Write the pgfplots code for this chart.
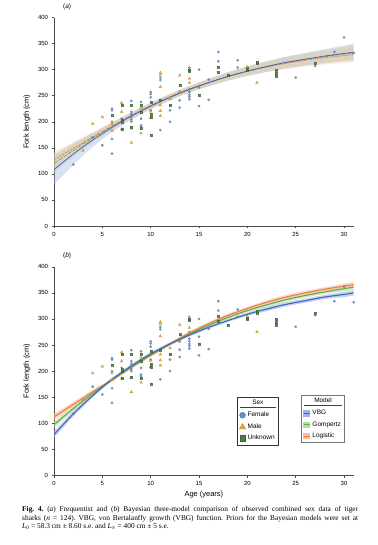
\documentclass[border=0pt]{standalone}
\usepackage{fontspec}
\setmainfont{Liberation Sans}
\newfontfamily\capfont{Liberation Serif}
\usepackage{pgfplots}
\usepackage{pgfplotstable}
\pgfplotsset{compat=1.18}
\usepgfplotslibrary{fillbetween}

\definecolor{femc}{HTML}{6A8EC0}
\definecolor{malc}{HTML}{E4AA34}
\definecolor{unkc}{HTML}{4E7D44}
\definecolor{vbgc}{HTML}{4262C6}
\definecolor{vbgb}{HTML}{9FB3E6}
\definecolor{gomc}{HTML}{62AE45}
\definecolor{gomb}{HTML}{B5DCA0}
\definecolor{logc}{HTML}{F07A45}
\definecolor{logb}{HTML}{F7BFA2}

\pgfplotstableread{
x y
2 118
4 170
5 155
6 139
6 167
6 200
6 222
6 225
7 206
8 200
8 204
8 209
8 214
8 219
8 240
9 190
9 193
9 206
9 238
10 222
10 247
10 253
10 257
11 184
11 280
11 285
12 200
12 222
13 227
13 241
13 257
14 243
14 248
14 252
14 257
14 262
14 300
14 304
15 230
15 266
15 300
16 242
16 281
17 316
17 334
19 304
19 318
25 285
27 307
29 334
30 362
31 332
}\femdata

\pgfplotstableread{
x y
3 145
4 196
5 209
6 183
6 196
7 186
7 219
7 236
8 160
8 187
9 178
9 226
10 208
10 220
11 211
11 221
11 232
11 267
11 291
11 294
12 244
13 257
13 289
14 275
14 283
20 305
21 275
}\maldata

\pgfplotstableread{
x y
6 212
7 186
7 199
7 203
7 232
8 189
8 232
9 187
9 219
9 232
10 175
10 208
10 214
10 238
11 241
12 232
13 270
14 297
14 300
15 252
17 296
17 305
18 289
20 299
20 302
21 312
21 315
23 288
23 293
23 299
27 312
}\unkdata

% panel (a): frequentist fits, t mid lo hi
\pgfplotstableread{
t m l h
0 108 80 136
2 138 117 158
4 165 152 178
6 189 180 198
8 211 204 218
10 230 224 236
12 247 241 253
14 262 256 268
16 275 268 282
18 287 279 295
20 297 288 306
22 306 296 316
24 314 303 325
26 320 308 332
28 326 313 339
30 331 317 346
31 333 319 350
}\vbgA
\pgfplotstableread{
t m l h
0 120 103 137
2 145 132 158
4 169 160 178
6 191 184 198
8 211 205 217
10 230 224 236
12 247 241 253
14 262 256 268
16 275 268 282
18 287 279 295
20 297 288 306
22 306 296 316
24 313 302 324
26 320 308 332
28 325 312 338
30 330 316 344
31 332 317 347
}\gomA
\pgfplotstableread{
t m l h
0 127 112 142
2 149 137 161
4 171 162 180
6 192 185 199
8 212 206 218
10 231 225 237
12 248 242 254
14 263 257 269
16 276 269 283
18 287 279 295
20 297 288 306
22 305 295 315
24 312 301 323
26 318 306 330
28 323 310 336
30 327 313 341
31 329 314 344
}\logA

% panel (b): Bayesian fits
\pgfplotstableread{
t m l h
0 78 72 84
2 118 113 123
4 153 149 157
6 184 181 187
8 210 207 213
10 233 230 236
12 252 249 255
14 269 266 272
16 284 281 287
18 297 294 300
20 309 306 312
22 319 315 323
24 328 324 332
26 335 331 339
28 342 338 346
30 347 342 352
31 350 345 355
}\vbgB
\pgfplotstableread{
t m l h
0 97 91 103
2 128 123 133
4 157 153 161
6 183 180 186
8 208 205 211
10 231 228 234
12 252 249 255
14 271 268 274
16 288 285 291
18 303 300 306
20 316 313 319
22 327 323 331
24 337 333 341
26 345 341 349
28 352 348 356
30 358 353 363
31 361 356 366
}\gomB
\pgfplotstableread{
t m l h
0 112 106 118
2 136 131 141
4 160 156 164
6 183 180 186
8 207 204 210
10 230 227 233
12 252 249 255
14 273 270 276
16 291 288 294
18 307 304 310
20 320 317 323
22 332 328 336
24 342 338 346
26 350 346 354
28 357 353 361
30 363 358 368
31 366 361 371
}\logB

\pgfplotsset{
  panel/.style={
    scale only axis, width=299.7bp, height=208.5bp,
    xmin=0, xmax=31, ymin=0, ymax=400,
    axis lines*=left,
    axis line style={black!70, line width=0.6pt},
    xtick={0,5,...,30}, ytick={0,50,...,400},
    tick align=outside, major tick length=2.5pt,
    tick style={black!70, line width=0.5pt},
    tick label style={font=\fontsize{6}{7}\selectfont},
    xticklabel={\pgfmathprintnumber[assume math mode=true]{\tick}},
    yticklabel={\pgfmathprintnumber[assume math mode=true]{\tick}},
    ylabel={Fork length (cm)},
    y label style={at={(axis description cs:-0.09,0.5)}, anchor=center, font=\fontsize{7.5}{8}\selectfont},
    x label style={at={(axis description cs:0.5,-0.09)}, anchor=center, font=\fontsize{7.5}{8}\selectfont},
  },
  femst/.style={only marks, mark=*, mark size=1.25pt, mark options={fill=femc, draw=femc!80!black, line width=0.2pt, opacity=0.85}},
  malst/.style={only marks, mark=triangle*, mark size=1.7pt, mark options={fill=malc, draw=malc!75!black, line width=0.2pt, opacity=0.85}},
  unkst/.style={only marks, mark=square*, mark size=1.0pt, mark options={fill=unkc, draw=unkc!85!black, line width=0.2pt, opacity=0.85}},
}

\begin{document}
\begin{tikzpicture}

% ---------------- panel (a)
\begin{axis}[panel, at={(54bp,-226bp)}, anchor=south west]
\addplot[femst] table[x=x,y=y] {\femdata};
\addplot[malst] table[x=x,y=y] {\maldata};
\addplot[unkst] table[x=x,y=y] {\unkdata};
% bands
\addplot[draw=none, name path=vaL, forget plot, smooth] table[x=t,y=l] {\vbgA};
\addplot[draw=none, name path=vaH, forget plot, smooth] table[x=t,y=h] {\vbgA};
\addplot[fill=vbgb, fill opacity=0.4, forget plot] fill between[of=vaL and vaH];
\addplot[draw=none, name path=gaL, forget plot, smooth] table[x=t,y=l] {\gomA};
\addplot[draw=none, name path=gaH, forget plot, smooth] table[x=t,y=h] {\gomA};
\addplot[fill=gomb, fill opacity=0.35, forget plot] fill between[of=gaL and gaH];
\addplot[draw=none, name path=laL, forget plot, smooth] table[x=t,y=l] {\logA};
\addplot[draw=none, name path=laH, forget plot, smooth] table[x=t,y=h] {\logA};
\addplot[fill=logb, fill opacity=0.35, forget plot] fill between[of=laL and laH];
% lines
\addplot[gomc, line width=0.8pt, dash pattern=on 3pt off 1pt on 0.8pt off 1pt, smooth, forget plot] table[x=t,y=m] {\gomA};
\addplot[logc, line width=0.8pt, dash pattern=on 2pt off 1.2pt, smooth, forget plot] table[x=t,y=m] {\logA};
\addplot[vbgc, line width=0.8pt, smooth, forget plot] table[x=t,y=m] {\vbgA};
\end{axis}

% ---------------- panel (b)
\begin{axis}[panel, at={(54bp,-475.3bp)}, anchor=south west,
  xlabel={Age (years)},
  legend style={name=sexleg, at={(rel axis cs:0.611,0.376)}, anchor=north west,
    draw=black!80, line width=0.5pt, fill=white,
    font=\fontsize{6.5}{7}\selectfont, inner sep=1.8pt, row sep=1.2pt,
    /tikz/every even column/.append style={column sep=1.5pt}},
  legend cell align=left]
\addlegendimage{empty legend}
\addlegendentry{\phantom{Sex}}
\addplot[femst, legend image code/.code={\draw[only marks, mark=*, mark size=3pt, mark options={fill=femc, draw=femc!75!black, line width=0.3pt}] plot coordinates {(0.12cm,0cm)};}] table[x=x,y=y] {\femdata};
\addlegendentry{Female}
\addplot[malst, legend image code/.code={\draw[only marks, mark=triangle*, mark size=3.6pt, mark options={fill=malc, draw=malc!70!black, line width=0.3pt}] plot coordinates {(0.12cm,-0.02cm)};}] table[x=x,y=y] {\maldata};
\addlegendentry{Male}
\addplot[unkst, legend image code/.code={\draw[only marks, mark=square*, mark size=2.7pt, mark options={fill=unkc, draw=unkc!80!black, line width=0.3pt}] plot coordinates {(0.12cm,0cm)};}] table[x=x,y=y] {\unkdata};
\addlegendentry{Unknown}
% bands
\addplot[draw=none, name path=vbL, forget plot, smooth] table[x=t,y=l] {\vbgB};
\addplot[draw=none, name path=vbH, forget plot, smooth] table[x=t,y=h] {\vbgB};
\addplot[fill=vbgb, fill opacity=0.6, forget plot] fill between[of=vbL and vbH];
\addplot[draw=none, name path=gbL, forget plot, smooth] table[x=t,y=l] {\gomB};
\addplot[draw=none, name path=gbH, forget plot, smooth] table[x=t,y=h] {\gomB};
\addplot[fill=gomb, fill opacity=0.6, forget plot] fill between[of=gbL and gbH];
\addplot[draw=none, name path=lbL, forget plot, smooth] table[x=t,y=l] {\logB};
\addplot[draw=none, name path=lbH, forget plot, smooth] table[x=t,y=h] {\logB};
\addplot[fill=logb, fill opacity=0.6, forget plot] fill between[of=lbL and lbH];
\addplot[logc, line width=1.1pt, smooth, forget plot] table[x=t,y=m] {\logB};
\addplot[gomc, line width=1.1pt, smooth, forget plot] table[x=t,y=m] {\gomB};
\addplot[vbgc, line width=1.1pt, smooth, forget plot] table[x=t,y=m] {\vbgB};
\end{axis}

% model legend
\begin{axis}[scale only axis, width=299.7bp, height=208.5bp, at={(54bp,-475.3bp)}, anchor=south west,
  hide axis, xmin=0, xmax=1, ymin=0, ymax=1,
  legend style={name=modleg, at={(rel axis cs:0.824,0.386)}, anchor=north west,
    draw=black!55, line width=1pt, fill=white,
    font=\fontsize{6.5}{7}\selectfont, inner sep=1.8pt, row sep=1.2pt,
    /tikz/every even column/.append style={column sep=1.5pt}},
  legend cell align=left]
\addplot[draw=none, forget plot] coordinates {(0,0) (1,1)};
\addlegendimage{empty legend}
\addlegendentry{\phantom{Model}}
\addlegendimage{legend image code/.code={\fill[vbgb] (0cm,-2.6pt) rectangle (0.22cm,2.6pt); \draw[vbgc, line width=0.9pt] (0cm,0pt) -- (0.22cm,0pt);}}
\addlegendentry{VBG}
\addlegendimage{legend image code/.code={\fill[gomb] (0cm,-2.6pt) rectangle (0.22cm,2.6pt); \draw[gomc, line width=0.9pt] (0cm,0pt) -- (0.22cm,0pt);}}
\addlegendentry{Gompertz}
\addlegendimage{legend image code/.code={\fill[logb] (0cm,-2.6pt) rectangle (0.22cm,2.6pt); \draw[logc, line width=0.9pt] (0cm,0pt) -- (0.22cm,0pt);}}
\addlegendentry{Logistic}
\end{axis}

% legend titles
\node[font=\fontsize{6.5}{7}\selectfont, inner sep=0] at ([yshift=-5.5pt]sexleg.north) {Sex};
\draw[black!75, line width=0.4pt] ([xshift=3pt,yshift=-10pt]sexleg.north west) -- ([xshift=-3pt,yshift=-10pt]sexleg.north east);
\node[font=\fontsize{6.5}{7}\selectfont, inner sep=0] at ([yshift=-5.5pt]modleg.north) {Model};
\draw[black!75, line width=0.4pt] ([xshift=3pt,yshift=-10pt]modleg.north west) -- ([xshift=-3pt,yshift=-10pt]modleg.north east);

% panel labels
\node[font=\fontsize{6.5}{7}\selectfont, anchor=west, inner sep=0] at (63bp,-6.5bp) {(\textit{a})};
\node[font=\fontsize{6.5}{7}\selectfont, anchor=west, inner sep=0] at (63bp,-256bp) {(\textit{b})};

% caption
\node[anchor=north west, text width=336bp, align=justify, inner sep=0,
  font=\capfont\fontsize{7.4}{8.5}\selectfont] at (22bp,-506.5bp)
{\frenchspacing\textbf{Fig. 4.}\enspace (\textit{a}) Frequentist and (\textit{b}) Bayesian three-model comparison of observed combined sex data of tiger\linebreak
sharks (\textit{n} = 124). VBG, von Bertalanffy growth (VBG) function. Priors for the Bayesian models were set at\linebreak
\textit{L}\textsubscript{0} = 58.3 cm ± 8.60 s.e. and \textit{L}\textsubscript{∞} = 400 cm ± 5 s.e.};

\pgfresetboundingbox
\path[use as bounding box] (0,0) rectangle (378bp,-545bp);
\end{tikzpicture}
\end{document}
